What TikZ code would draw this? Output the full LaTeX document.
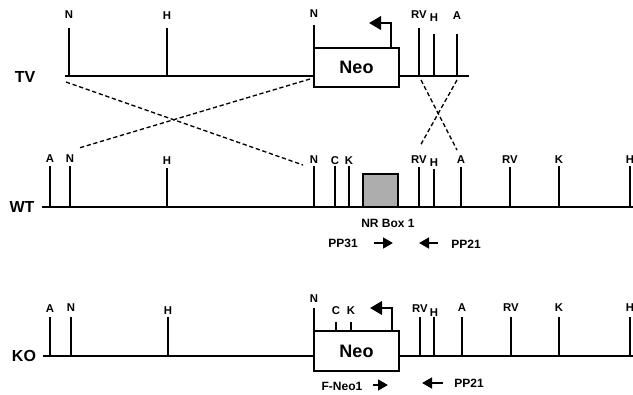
\documentclass[tikz,border=0pt]{standalone}
\usepackage{fontspec}
\setmainfont{Liberation Sans}
\usetikzlibrary{arrows.meta}
\tikzset{
  dna/.style={line width=1.6pt},
  site/.style={line width=1pt},
  lbl/.style={font=\bfseries\fontsize{8.5}{9}\selectfont, inner sep=0},
  plbl/.style={font=\bfseries\fontsize{9}{10}\selectfont, inner sep=0},
  rowlbl/.style={font=\bfseries\fontsize{12}{14}\selectfont, inner sep=0},
  neobox/.style={draw, line width=1.2pt, fill=white, minimum width=63.75pt, minimum height=29.5pt, inner sep=0, font=\bfseries\fontsize{13.5}{15}\selectfont},
  grbox/.style={draw, line width=1pt, fill=black!32},
  hom/.style={line width=1pt, dash pattern=on 3.2pt off 2pt},
  prom/.style={line width=2pt, -{Triangle[length=9pt,width=10pt]}},
  primer/.style={line width=1.8pt, -{Triangle[length=7.5pt,width=8pt]}}
}
\newcommand\rsite[6]{%
  \coordinate (#1b) at (#2,#3);
  \coordinate (#1t) at (#2,#4);
  \draw[site] (#1b) -- (#1t);
  \node[lbl] (#1) at (#2,#6) {#5};}
\begin{document}
\begin{tikzpicture}[x=0.75pt,y=-0.75pt]
\useasboundingbox (0,0) rectangle (633,394);
% ---------------- TV ----------------
\node[rowlbl] (tvlbl) at (25,77) {TV};
\coordinate (tvL) at (65,76);
\coordinate (tvR) at (469,76);
\node[neobox] (tvneo) at (356.5,67.5) {Neo};
\draw[dna] (tvL) -- (tvneo.west |- tvL);
\draw[dna] (tvneo.east |- tvR) -- (tvR);
\rsite{tvNa}{69}{76}{28}{N}{15}
\rsite{tvH}{167}{76}{28}{H}{16}
\rsite{tvNb}{314}{48}{25}{N}{14}
\rsite{tvRV}{419}{76}{28}{RV}{15}
\rsite{tvHb}{434}{76}{34}{H}{18}
\rsite{tvA}{457}{76}{34}{A}{16}
\coordinate (tvP1) at (391,48);
\coordinate (tvP2) at (391,23);
\coordinate (tvP3) at (369,23);
\draw[prom] (tvP1) -- (tvP2) -- (tvP3);
% ---------------- WT ----------------
\node[rowlbl] (wtlbl) at (22,207) {WT};
\coordinate (wtL) at (42,207);
\coordinate (wtR) at (633,207);
\draw[dna] (wtL) -- (wtR);
\rsite{wtA}{50}{207}{166}{A}{159}
\rsite{wtN}{70}{207}{166}{N}{159}
\rsite{wtH}{167}{207}{168}{H}{161}
\rsite{wtNb}{314}{207}{166}{N}{160}
\rsite{wtC}{335}{207}{166}{C}{161}
\rsite{wtK}{349}{207}{166}{K}{161}
\rsite{wtRV}{419}{207}{167}{RV}{160}
\rsite{wtHb}{434}{207}{169}{H}{163}
\rsite{wtAb}{461}{207}{167}{A}{160}
\rsite{wtRVb}{510}{207}{167}{RV}{160}
\rsite{wtKb}{559}{207}{166}{K}{160}
\rsite{wtHc}{630}{207}{166}{H}{160}
\node[grbox, minimum width=26.25pt, minimum height=24.75pt, inner sep=0] (nrbox) at (380.5,190.5) {};
\node[plbl] (nrlbl) at (388,223) {NR Box 1};
\node[plbl] (pp31) at (343,243) {PP31};
\coordinate (pp31a) at (374,243);
\coordinate (pp31b) at (393,243);
\draw[primer] (pp31a) -- (pp31b);
\coordinate (pp21a) at (438,243);
\coordinate (pp21b) at (419,243);
\draw[primer] (pp21a) -- (pp21b);
\node[plbl] (pp21) at (466,244) {PP21};
% homologous recombination
\coordinate (h1a) at (66,82);
\coordinate (h1b) at (303,165);
\coordinate (h2a) at (310,79);
\coordinate (h2b) at (79,148);
\coordinate (h3a) at (421,80);
\coordinate (h3b) at (457,150);
\coordinate (h4a) at (457,80);
\coordinate (h4b) at (420,146);
\draw[hom] (h1a) -- (h1b);
\draw[hom] (h2a) -- (h2b);
\draw[hom] (h3a) -- (h3b);
\draw[hom] (h4a) -- (h4b);
% ---------------- KO ----------------
\node[rowlbl] (kolbl) at (24,356) {KO};
\coordinate (koL) at (43,356);
\coordinate (koR) at (633,356);
\node[neobox, minimum height=30pt] (koneo) at (356.5,351) {Neo};
\draw[dna] (koL) -- (koneo.west |- koL);
\draw[dna] (koneo.east |- koR) -- (koR);
\rsite{koA}{50}{356}{317}{A}{309}
\rsite{koN}{71}{356}{317}{N}{308}
\rsite{koH}{168}{356}{317}{H}{311}
\rsite{koNb}{314}{331}{308}{N}{299}
\rsite{koC}{336}{331}{322}{C}{311}
\rsite{koK}{351}{331}{322}{K}{311}
\rsite{koRV}{420}{356}{317}{RV}{309}
\rsite{koHb}{434}{356}{317}{H}{313}
\rsite{koAb}{462}{356}{317}{A}{308}
\rsite{koRVb}{511}{356}{317}{RV}{308}
\rsite{koKb}{559}{356}{317}{K}{308}
\rsite{koHc}{630}{356}{317}{H}{308}
\coordinate (koP1) at (392,331);
\coordinate (koP2) at (392,308);
\coordinate (koP3) at (370,308);
\draw[prom] (koP1) -- (koP2) -- (koP3);
\node[plbl] (fneo) at (342,386) {F-Neo1};
\coordinate (fna) at (373,385);
\coordinate (fnb) at (388,385);
\draw[primer] (fna) -- (fnb);
\coordinate (pp21c) at (443,383);
\coordinate (pp21d) at (422,383);
\draw[primer] (pp21c) -- (pp21d);
\node[plbl] (pp21k) at (469,383) {PP21};
\end{tikzpicture}
\end{document}
